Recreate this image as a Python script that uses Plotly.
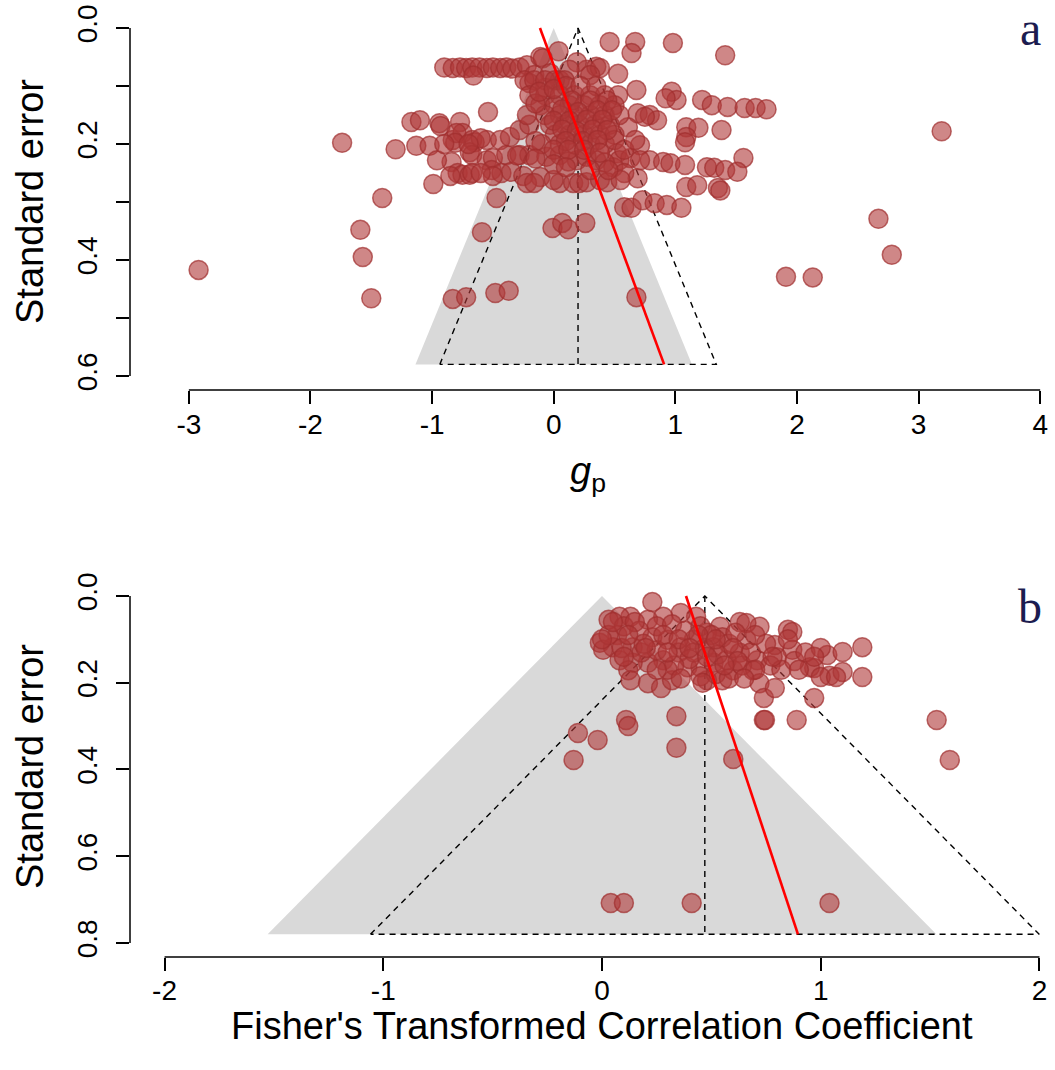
import plotly.graph_objects as go

# ---------------- Panel a data (effect size g_p, standard error) ----------------
a_g = [-2.92, -1.74, -1.30, -1.13, -1.02, -1.17, -1.41, -1.59, -1.57, -1.50,
       -0.99, -0.83, -0.72, -0.48, -0.37, 0.68, -0.59, -0.47, -0.01, 0.07,
       0.12, 0.26, 1.91, 2.13, 2.67, 2.78, 3.19,
       -0.90, -0.83, -0.77, -0.72, -0.67, -0.61, -0.55, -0.50, -0.44, -0.39,
       -0.34, -0.28, -0.66, -0.22, -0.11, 0.04, -0.09, -0.16, -0.20, -0.03,
       -0.07, 0.05, 0.27, 0.35, 0.53, 0.38, 0.53, 0.68, 0.46, 0.67,
       0.64, 0.98, 1.41, 0.19, 0.30, 0.13,
       0.97, 1.01, 0.92, 1.22, 1.30, 1.43, 1.57, 1.66, 1.75, 0.69,
       0.79, 0.85, 0.75, 0.61, 1.09, 1.19, 1.38, 1.09, 0.71, 1.56, 1.08,
       0.52, 0.79, 0.90, 0.96, 1.08, 1.26, 1.32, 1.41, 1.51, 0.69,
       1.09, 1.18, 1.35, 1.37,
       0.58, 0.64, 0.73, 0.83, 0.93, 1.05,
       -1.10, -0.94, -0.77, -0.83, -0.75, -0.67, -0.55, -0.44, -0.36, -0.28,
       -0.20, -0.93, -0.80, -0.81, -0.65, -0.54,
       -0.84, -0.69, -0.67, -0.55, -0.50, -0.39, -0.28, -0.20, -0.06, 0.19,
       0.35, 0.49, 0.05, 0.54, 0.63, 0.71, -0.96, 0.27, 0.12, 0.42,
       -0.79, -0.75, -0.69, -0.67, -0.51, -0.43, -0.35, -0.11, -0.25,
       -0.22, -0.16, 0.05, 0.16, 0.21, 0.27, 0.38, 0.44, 0.00, 0.58, 0.55,
       -0.24, -0.16, -0.07, 0.01, 0.09,
       -0.20, -0.07, 0.05, 0.17, 0.30, 0.42,
       -0.11, 0.01, 0.13, 0.25, 0.38, 0.50,
       -0.07, 0.05, 0.17, 0.30, 0.42, 0.54,
       -0.03, 0.09, 0.21, 0.34, 0.46,
       0.01, 0.13, 0.25, 0.38, 0.50,
       0.05, 0.17, 0.30, 0.42,
       0.50, 0.58, 0.67,
       -0.22, -0.15, -0.10, -0.15,
       0.10, 0.22, 0.35, -0.12, 0.00, 0.15, 0.30, 0.44, 0.07, 0.20,
       0.36, 0.48, 0.00, 0.13, 0.27, 0.40, 0.07, 0.19, 0.32, 0.44,
       0.10, 0.24, 0.36, 0.00, 0.12, 0.25, 0.38, -0.30, -0.15, 0.00,
       0.10, 0.30, 0.45, -0.60, -0.70, -0.90, -0.50, -0.60, -0.85]
a_se = [0.417, 0.198, 0.209, 0.203, 0.203, 0.162, 0.293, 0.348, 0.395, 0.466,
        0.269, 0.467, 0.464, 0.457, 0.453, 0.464, 0.352, 0.293, 0.345, 0.336,
        0.347, 0.336, 0.429, 0.430, 0.329, 0.391, 0.178,
        0.068, 0.069, 0.068, 0.069, 0.068, 0.068, 0.069, 0.068, 0.069, 0.068,
        0.070, 0.068, 0.082, 0.064, 0.050, 0.040, 0.052, 0.081, 0.095, 0.078,
        0.103, 0.090, 0.072, 0.067, 0.079, 0.069, 0.116, 0.107, 0.024, 0.024,
        0.043, 0.026, 0.047, 0.059, 0.081, 0.072,
        0.110, 0.124, 0.121, 0.124, 0.133, 0.136, 0.138, 0.138, 0.140, 0.147,
        0.150, 0.159, 0.153, 0.171, 0.171, 0.172, 0.176, 0.188, 0.202, 0.224, 0.197,
        0.216, 0.228, 0.231, 0.233, 0.236, 0.240, 0.241, 0.245, 0.248, 0.259,
        0.274, 0.271, 0.276, 0.280,
        0.309, 0.310, 0.297, 0.302, 0.305, 0.310,
        0.159, 0.164, 0.162, 0.193, 0.181, 0.193, 0.193, 0.193, 0.188, 0.176,
        0.167, 0.169, 0.181, 0.198, 0.197, 0.145,
        0.231, 0.214, 0.219, 0.228, 0.224, 0.219, 0.219, 0.219, 0.222, 0.228,
        0.228, 0.240, 0.219, 0.228, 0.224, 0.228, 0.228, 0.222, 0.230, 0.232,
        0.250, 0.253, 0.253, 0.250, 0.245, 0.250, 0.248, 0.257, 0.255,
        0.267, 0.267, 0.267, 0.267, 0.267, 0.266, 0.262, 0.266, 0.262, 0.250, 0.262,
        0.090, 0.090, 0.090, 0.090, 0.090,
        0.116, 0.116, 0.116, 0.116, 0.116, 0.116,
        0.133, 0.133, 0.133, 0.133, 0.133, 0.133,
        0.150, 0.150, 0.150, 0.150, 0.150, 0.150,
        0.167, 0.167, 0.167, 0.167, 0.167,
        0.184, 0.184, 0.184, 0.184, 0.184,
        0.200, 0.200, 0.200, 0.200,
        0.193, 0.210, 0.193,
        0.150, 0.130, 0.200, 0.195,
        0.100, 0.100, 0.100, 0.110, 0.105, 0.125, 0.125, 0.125, 0.140, 0.145,
        0.142, 0.142, 0.160, 0.160, 0.158, 0.158, 0.175, 0.178, 0.175, 0.176,
        0.195, 0.195, 0.193, 0.210, 0.210, 0.210, 0.215, 0.220, 0.225, 0.235,
        0.240, 0.245, 0.245, 0.190, 0.200, 0.200, 0.255, 0.250, 0.255]

# ---------------- Panel b data (Fisher z, standard error) ----------------
b_z = [0.04, 0.10, 0.41, 1.04,
       -0.13, -0.11, -0.02, 0.11, 0.12, 0.34, 0.34, 0.60, 0.74, 0.745, 0.89, 1.53, 1.59,
       0.23,
       0.97, 0.97, 1.04, 1.10, 1.19, 1.19, 1.03, 1.10, 0.95, 1.00, 1.07, 0.85, 0.87,
       0.87, 0.80, 0.79, 0.72, 0.63, 0.66, 0.71, 0.69, 0.72, 0.74, 0.79, 0.55, 0.60,
       0.48, 0.54, 0.43, 0.36, 0.28, 0.21, 0.13, 0.08, 0.07, -0.01, 0.05, 0.14,
       0.23, 0.30, 0.36, 0.42, 0.39, 0.45, 0.51, 0.57, 0.63, 0.66, 0.55, 0.48,
       0.51, 0.28, 0.21, 0.14, 0.08, 0.03, 0.005, 0.12, 0.13, 0.21, 0.27, 0.32,
       0.10, 0.17, 0.25, 0.32, 0.38, 0.45, 0.50, 0.58, 0.61, 0.35, 0.42, 0.47,
       0.53, 0.40, 0.33, 0.18, 0.25, 0.30, 0.45, 0.52, 0.58, 0.64, 0.68, 0.75,
       0.77, 0.82, 0.88, 0.93, 1.00, 0.85, 0.70, 0.19, 0.09, 0.03,
       0.05, 0.15, 0.12, 0.20, 0.28, 0.35, 0.44, 0.52, 0.60, 0.48, 0.40, 0.30,
       0.10, 0.00, 0.62, 0.70, 0.56, 0.46, 0.36, 0.25, 0.65, 0.78, 0.90, 0.97]
b_se = [0.708, 0.708, 0.708, 0.708,
        0.378, 0.316, 0.332, 0.286, 0.300, 0.277, 0.350, 0.376, 0.286, 0.286, 0.286, 0.286, 0.378,
        0.014,
        0.166, 0.235, 0.184, 0.175, 0.118, 0.187, 0.136, 0.129, 0.164, 0.187, 0.187, 0.078, 0.083,
        0.124, 0.141, 0.113, 0.071, 0.060, 0.062, 0.148, 0.171, 0.201, 0.235, 0.212, 0.194, 0.171,
        0.194, 0.071, 0.048, 0.039, 0.048, 0.055, 0.048, 0.048, 0.090, 0.108, 0.118, 0.118,
        0.095, 0.101, 0.118, 0.101, 0.164, 0.164, 0.154, 0.148, 0.131, 0.101, 0.095, 0.085,
        0.118, 0.148, 0.154, 0.154, 0.148, 0.055, 0.124, 0.171, 0.194, 0.201, 0.212, 0.194,
        0.070, 0.080, 0.070, 0.065, 0.080, 0.070, 0.090, 0.110, 0.085, 0.130, 0.130, 0.120,
        0.135, 0.145, 0.160, 0.130, 0.125, 0.170, 0.185, 0.180, 0.190, 0.160, 0.130, 0.110,
        0.160, 0.170, 0.150, 0.130, 0.120, 0.100, 0.090, 0.110, 0.120, 0.090,
        0.060, 0.060, 0.090, 0.120, 0.090, 0.100, 0.090, 0.100, 0.120, 0.140, 0.120, 0.130,
        0.140, 0.100, 0.150, 0.170, 0.160, 0.200, 0.190, 0.170, 0.190, 0.140, 0.170, 0.140]

# Funnel parameters
a_ref, a_est, a_semax = 0.0, 0.2, 0.58
b_ref, b_est, b_semax = 0.0, 0.47, 0.78
a_reg_x = [-0.113, 0.908]
a_reg_se = [0.0, 0.58]
b_reg_x = [0.384, 0.896]
b_reg_se = [0.0, 0.78]

a_xticks = [-3, -2, -1, 0, 1, 2, 3, 4]
a_yticks = [0.0, 0.2, 0.4, 0.6]
a_yticktext = ["0.0", "0.2", "0.4", "0.6"]
b_xticks = [-2, -1, 0, 1, 2]
b_yticks = [0.0, 0.2, 0.4, 0.6, 0.8]
b_yticktext = ["0.0", "0.2", "0.4", "0.6", "0.8"]

W, H = 1055, 1070
FONT = "Liberation Sans"
GRAY = "#D9D9D9"
PT_FILL = "rgba(175,55,55,0.6)"
PT_LINE = "rgba(160,45,45,0.7)"

# layout geometry (paper fractions)
xdom = [130 / W, 1.0]
a_ydom = [1 - 390 / H, 1 - 8 / H]
b_ydom = [1 - 957 / H, 1 - 576 / H]
a_xr = [-3.484, 4.122]
a_yr = [0.6241, -0.0345]
b_xr = [-2.158, 2.071]
b_yr = [0.8323, -0.0461]

fig = go.Figure()


def add_panel(xa, ya, ref, est, semax, regx, regse, px, pse):
    k = 1.96
    fig.add_trace(go.Scatter(
        x=[ref - k * semax, ref, ref + k * semax], y=[semax, 0, semax],
        fill="toself", fillcolor=GRAY, mode="lines", line=dict(width=0),
        xaxis=xa, yaxis=ya, hoverinfo="skip"))
    fig.add_trace(go.Scatter(
        x=[est - k * semax, est, est + k * semax, est - k * semax],
        y=[semax, 0, semax, semax], mode="lines",
        line=dict(color="black", width=1.4, dash="6px,5px"),
        xaxis=xa, yaxis=ya, hoverinfo="skip"))
    fig.add_trace(go.Scatter(
        x=[est, est], y=[0, semax], mode="lines",
        line=dict(color="black", width=1.4, dash="6px,5px"),
        xaxis=xa, yaxis=ya, hoverinfo="skip"))
    fig.add_trace(go.Scatter(
        x=px, y=pse, mode="markers",
        marker=dict(size=19, color=PT_FILL, line=dict(color=PT_LINE, width=1.5)),
        xaxis=xa, yaxis=ya, hoverinfo="skip"))
    fig.add_trace(go.Scatter(
        x=regx, y=regse, mode="lines", line=dict(color="red", width=2.6),
        xaxis=xa, yaxis=ya, hoverinfo="skip"))


add_panel("x", "y", a_ref, a_est, a_semax, a_reg_x, a_reg_se, a_g, a_se)
add_panel("x2", "y2", b_ref, b_est, b_semax, b_reg_x, b_reg_se, b_z, b_se)

axis_common = dict(showline=False, showgrid=False, zeroline=False,
                   ticks="outside", ticklen=13, tickwidth=1.5, tickcolor="black",
                   tickfont=dict(family=FONT, size=28, color="black"),
                   automargin=False)
minor_a = dict(dtick=0.1, tick0=0, ticks="outside", ticklen=13, tickwidth=1.5,
               tickcolor="black", showgrid=False)

fig.update_layout(
    width=W, height=H, showlegend=False,
    margin=dict(l=0, r=0, t=0, b=0),
    plot_bgcolor="white", paper_bgcolor="white",
    xaxis=dict(domain=xdom, range=a_xr, anchor="y", tickmode="array",
               tickvals=a_xticks, ticktext=[str(t) for t in a_xticks],
               ticklabelstandoff=-4, **axis_common),
    yaxis=dict(domain=a_ydom, range=a_yr, anchor="x", tickmode="array",
               tickvals=a_yticks, ticktext=a_yticktext, tickangle=-90,
               ticklabelstandoff=8, minor=minor_a, **axis_common),
    xaxis2=dict(domain=xdom, range=b_xr, anchor="y2", tickmode="array",
                tickvals=b_xticks, ticktext=[str(t) for t in b_xticks],
                ticklabelstandoff=-5, **axis_common),
    yaxis2=dict(domain=b_ydom, range=b_yr, anchor="x2", tickmode="array",
                tickvals=b_yticks, ticktext=b_yticktext, tickangle=-90,
                ticklabelstandoff=8, **axis_common),
)


def to_paper(v, r, dom):
    return dom[0] + (v - r[0]) / (r[1] - r[0]) * (dom[1] - dom[0])


def axis_lines(xr, yr, ydom, xticks, yticks):
    xl = dict(type="line", xref="paper", yref="paper",
              x0=to_paper(xticks[0], xr, xdom), x1=to_paper(xticks[-1], xr, xdom),
              y0=ydom[0], y1=ydom[0], line=dict(color="black", width=1.5))
    yl = dict(type="line", xref="paper", yref="paper",
              x0=xdom[0], x1=xdom[0],
              y0=to_paper(yticks[0], yr, ydom), y1=to_paper(yticks[-1], yr, ydom),
              line=dict(color="black", width=1.5))
    return [xl, yl]


fig.update_layout(shapes=axis_lines(a_xr, a_yr, a_ydom, a_xticks, a_yticks)
                  + axis_lines(b_xr, b_yr, b_ydom, b_xticks, b_yticks))

title_font = dict(family=FONT, size=38, color="black")
fig.update_layout(annotations=[
    dict(text="Standard error", xref="paper", yref="paper", x=30 / W, y=1 - 202 / H,
         textangle=-90, showarrow=False, font=title_font, xanchor="center", yanchor="middle"),
    dict(text="Standard error", xref="paper", yref="paper", x=30 / W, y=1 - 767 / H,
         textangle=-90, showarrow=False, font=title_font, xanchor="center", yanchor="middle"),
    dict(text="<i>g</i><sub>p</sub>", xref="paper", yref="paper", x=588 / W, y=1 - 474 / H,
         showarrow=False, font=title_font, xanchor="center", yanchor="middle"),
    dict(text="Fisher's Transformed Correlation Coefficient", xref="paper", yref="paper",
         x=602 / W, y=1 - 1026 / H, showarrow=False, font=title_font,
         xanchor="center", yanchor="middle"),
    dict(text="a", xref="paper", yref="paper", x=1030 / W, y=1.0, showarrow=False,
         font=dict(family="Liberation Serif", size=48, color="#1c1c50"),
         xanchor="center", yanchor="top"),
    dict(text="b", xref="paper", yref="paper", x=1030 / W, y=1 - 578 / H, showarrow=False,
         font=dict(family="Liberation Serif", size=48, color="#1c1c50"),
         xanchor="center", yanchor="top"),
])

fig.write_html("out.html")
